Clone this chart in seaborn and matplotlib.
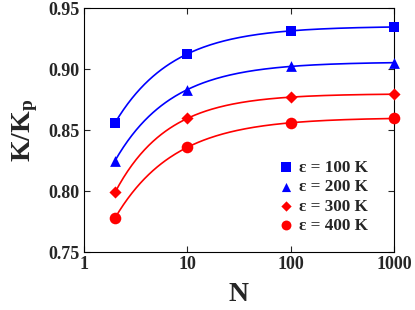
import numpy as np
import seaborn as sns
import matplotlib
matplotlib.use('Agg')
import matplotlib.pyplot as plt
from matplotlib.ticker import FixedLocator, NullLocator, FixedFormatter

# data
N = [2, 10, 100, 1000]
k_100 = [0.856, 0.9125, 0.931, 0.9347]
k_200 = [0.825, 0.883, 0.9025, 0.905]
k_300 = [0.799, 0.8596, 0.8768, 0.8795]
k_400 = [0.778, 0.836, 0.8555, 0.8598]
labels = ['ε = 100 K', 'ε = 200 K', 'ε = 300 K', 'ε = 400 K']
colors = ['#0000ff', '#0000ff', '#ff0000', '#ff0000']
markers = ['s', '^', 'D', 'o']
msizes = [60, 60, 38, 70]

sns.set_style('ticks')
plt.rcParams['font.family'] = ['Liberation Serif', 'DejaVu Serif']
plt.rcParams['font.weight'] = 'bold'
plt.rcParams['mathtext.fontset'] = 'custom'
plt.rcParams['mathtext.rm'] = 'Liberation Serif:bold'
plt.rcParams['mathtext.bf'] = 'Liberation Serif:bold'
plt.rcParams['mathtext.it'] = 'Liberation Serif:bold'


def fit_curve(x, y):
    # saturating fit y = a - b * x^-c, best c from a grid
    x = np.asarray(x, float)
    y = np.asarray(y, float)
    best = None
    for c in np.linspace(0.2, 2.0, 361):
        A = np.column_stack([np.ones_like(x), -x ** -c])
        coef, res, _, _ = np.linalg.lstsq(A, y, rcond=None)
        err = np.sum((A @ coef - y) ** 2)
        if best is None or err < best[0]:
            best = (err, coef, c)
    _, (a, b), c = best
    xs = np.logspace(np.log10(x.min()), np.log10(x.max()), 200)
    return xs, a - b * xs ** -c


fig = plt.figure(figsize=(4.15, 3.10), dpi=100)
ax = fig.add_axes([0.2024, 0.187, 0.7470, 0.787])

series = [k_100, k_200, k_300, k_400]
for vals, lab, col, mk, ms in zip(series, labels, colors, markers, msizes):
    xs, ys = fit_curve(N, vals)
    sns.lineplot(x=xs, y=ys, color=col, lw=1.2, ax=ax, legend=False)
    sns.scatterplot(x=N, y=vals, color=col, marker=mk, s=ms, linewidth=0,
                    label=lab, ax=ax, zorder=3, clip_on=False)

ax.set_xscale('log')
ax.set_xlim(1, 1000)
ax.set_ylim(0.75, 0.95)
ax.xaxis.set_major_locator(FixedLocator([1, 10, 100, 1000]))
ax.xaxis.set_major_formatter(FixedFormatter(['1', '10', '100', '1000']))
ax.xaxis.set_minor_locator(NullLocator())
ax.set_yticks([0.75, 0.80, 0.85, 0.90, 0.95])
ax.set_yticklabels(['0.75', '0.80', '0.85', '0.90', '0.95'])
ax.tick_params(direction='in', length=4, width=0.8, top=True, right=True,
               labelsize=13, pad=3)
for t in ax.get_xticklabels() + ax.get_yticklabels():
    t.set_fontweight('bold')
for s in ax.spines.values():
    s.set_linewidth(0.8)
    s.set_color('black')

ax.set_xlabel('N', fontsize=20, fontweight='bold', labelpad=6)
ax.set_ylabel(r'K/K$_\mathregular{p}$', fontsize=20, fontweight='bold', labelpad=6)

ax.legend(loc='lower right', frameon=False, markerscale=0.85,
          handlelength=1.0, handletextpad=0.25, labelspacing=0.2,
          borderaxespad=0.3, bbox_to_anchor=(0.955, 0.025),
          prop={'weight': 'bold', 'size': 12.3})

fig.savefig('out.png', dpi=100)
